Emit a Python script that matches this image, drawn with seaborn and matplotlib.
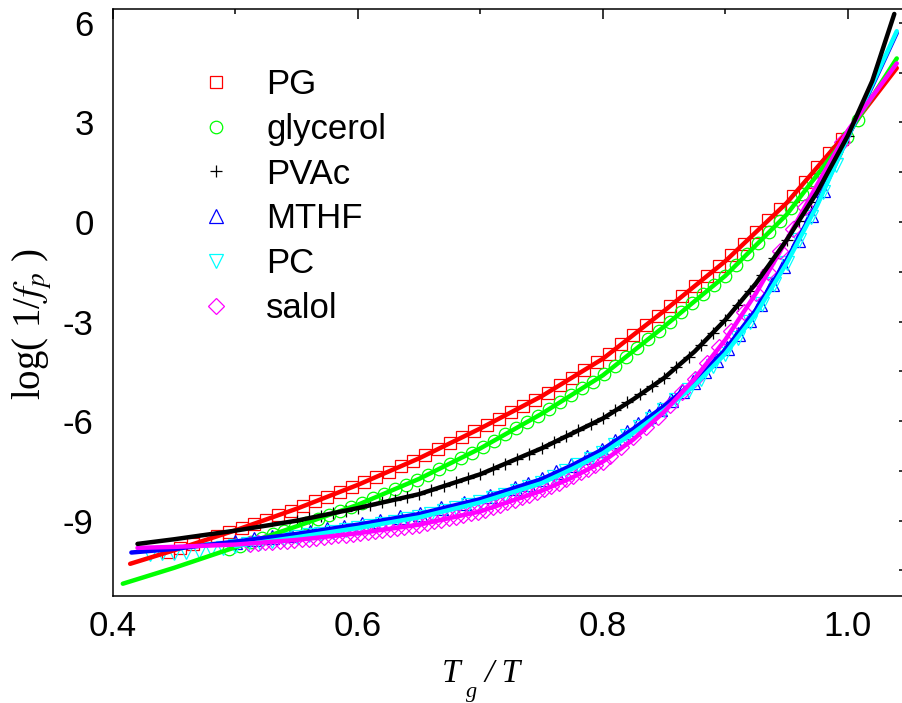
import matplotlib
matplotlib.use("Agg")
import matplotlib.pyplot as plt
import seaborn as sns
from matplotlib.ticker import MultipleLocator

# Measured points (Tg/T, log(1/fp))
pg_x = [0.445, 0.455, 0.465, 0.475, 0.485, 0.495, 0.505, 0.515, 0.525, 0.535, 0.545, 0.555, 0.565, 0.575,
        0.585, 0.595, 0.605, 0.615, 0.625, 0.635, 0.645, 0.655, 0.665, 0.675, 0.685, 0.695, 0.705, 0.715,
        0.725, 0.735, 0.745, 0.755, 0.765, 0.775, 0.785, 0.795, 0.805, 0.815, 0.825, 0.835, 0.845, 0.855,
        0.865, 0.875, 0.885, 0.895, 0.905, 0.915, 0.925, 0.935, 0.945, 0.955, 0.965, 0.975, 0.985, 0.995]
pg_y = [-9.95, -9.83, -9.71, -9.59, -9.47, -9.35, -9.23, -9.10, -8.97, -8.84, -8.71, -8.57, -8.42, -8.28,
        -8.14, -7.99, -7.84, -7.68, -7.52, -7.36, -7.20, -7.03, -6.85, -6.67, -6.49, -6.31, -6.12, -5.93,
        -5.74, -5.54, -5.35, -5.14, -4.91, -4.69, -4.46, -4.23, -3.98, -3.69, -3.40, -3.11, -2.82, -2.53,
        -2.23, -1.93, -1.63, -1.33, -1.00, -0.65, -0.30, 0.05, 0.40, 0.79, 1.22, 1.65, 2.08, 2.51]

gly_x = [0.495, 0.504, 0.513, 0.522, 0.531, 0.540, 0.549, 0.558, 0.567, 0.576, 0.585, 0.594, 0.603, 0.612,
         0.621, 0.630, 0.639, 0.648, 0.657, 0.666, 0.675, 0.684, 0.693, 0.702, 0.711, 0.720, 0.729, 0.738,
         0.747, 0.756, 0.765, 0.774, 0.783, 0.792, 0.801, 0.810, 0.819, 0.828, 0.837, 0.846, 0.855, 0.864,
         0.873, 0.882, 0.891, 0.900, 0.909, 0.918, 0.927, 0.936, 0.945, 0.954, 0.963, 0.972, 0.981, 0.990,
         0.999, 1.008]
gly_y = [-9.86, -9.75, -9.64, -9.52, -9.41, -9.30, -9.18, -9.07, -8.95, -8.83, -8.72, -8.60, -8.47, -8.33,
         -8.19, -8.05, -7.91, -7.77, -7.61, -7.45, -7.28, -7.11, -6.95, -6.78, -6.59, -6.40, -6.22, -6.03,
         -5.84, -5.64, -5.43, -5.22, -5.01, -4.81, -4.59, -4.33, -4.06, -3.80, -3.53, -3.27, -3.00, -2.72,
         -2.45, -2.17, -1.90, -1.62, -1.29, -0.96, -0.63, -0.30, 0.04, 0.41, 0.84, 1.28, 1.71, 2.14,
         2.57, 3.08]

pvac_x = [0.55, 0.56, 0.57, 0.58, 0.59, 0.60, 0.61, 0.62, 0.63, 0.64, 0.65, 0.66, 0.67, 0.68, 0.69, 0.70,
          0.71, 0.72, 0.73, 0.74, 0.75, 0.76, 0.77, 0.78, 0.79, 0.80, 0.81, 0.82, 0.83, 0.84, 0.85, 0.86,
          0.87, 0.88, 0.89, 0.90, 0.91, 0.92, 0.93, 0.94, 0.95, 0.96, 0.97, 0.98, 0.99, 1.00]
pvac_y = [-9.00, -8.92, -8.85, -8.77, -8.70, -8.62, -8.54, -8.45, -8.37, -8.28, -8.20, -8.08, -7.96, -7.84,
          -7.72, -7.60, -7.44, -7.29, -7.13, -6.98, -6.82, -6.64, -6.46, -6.28, -6.10, -5.92, -5.68, -5.43,
          -5.19, -4.94, -4.70, -4.38, -4.06, -3.71, -3.33, -2.95, -2.51, -2.07, -1.59, -1.07, -0.55, 0.03,
          0.61, 1.24, 1.92, 2.60]

mthf_x = [0.500, 0.515, 0.530, 0.545, 0.561, 0.575, 0.589, 0.603, 0.618, 0.634, 0.651, 0.668, 0.687, 0.708,
          0.728, 0.739, 0.750, 0.762, 0.774, 0.787, 0.799, 0.810, 0.820, 0.829, 0.838, 0.847, 0.856, 0.865,
          0.874, 0.883, 0.892, 0.901, 0.910, 0.919, 0.928, 0.938, 0.947, 0.959, 0.970, 0.980]
mthf_y = [-9.63, -9.56, -9.49, -9.42, -9.34, -9.26, -9.18, -9.10, -9.00, -8.90, -8.79, -8.63, -8.47, -8.25,
          -8.01, -7.88, -7.75, -7.53, -7.32, -7.08, -6.87, -6.59, -6.33, -6.10, -5.86, -5.63, -5.37, -5.10,
          -4.83, -4.50, -4.15, -3.80, -3.37, -2.94, -2.47, -1.87, -1.33, -0.54, 0.21, 0.95]

pc_x = [0.43, 0.44, 0.45, 0.46, 0.47, 0.48, 0.49, 0.50, 0.51, 0.52, 0.53, 0.54, 0.55, 0.56, 0.57, 0.58,
        0.59, 0.60, 0.61, 0.62, 0.63, 0.64, 0.65, 0.66, 0.67, 0.68, 0.69, 0.70, 0.71, 0.72, 0.73, 0.74,
        0.75, 0.76, 0.77, 0.78, 0.79, 0.80, 0.81, 0.82, 0.83, 0.84, 0.85, 0.86, 0.87, 0.88, 0.89, 0.90,
        0.91, 0.92, 0.93, 0.94, 0.95, 0.96, 0.97, 0.98, 0.99]
pc_y = [-10.00, -9.98, -9.96, -9.93, -9.90, -9.86, -9.81, -9.76, -9.71, -9.66, -9.60, -9.55, -9.50, -9.44,
        -9.39, -9.33, -9.28, -9.22, -9.16, -9.09, -9.03, -8.96, -8.90, -8.81, -8.72, -8.63, -8.54, -8.45,
        -8.33, -8.22, -8.10, -7.99, -7.87, -7.69, -7.51, -7.33, -7.15, -6.97, -6.71, -6.45, -6.19, -5.93,
        -5.67, -5.37, -5.07, -4.73, -4.35, -3.97, -3.49, -3.01, -2.47, -1.86, -1.25, -0.55, 0.15, 0.91,
        1.73]

salol_x = [0.512, 0.518, 0.524, 0.530, 0.536, 0.542, 0.548, 0.554, 0.560, 0.566, 0.572, 0.578, 0.584, 0.590,
           0.596, 0.602, 0.608, 0.614, 0.620, 0.626, 0.632, 0.638, 0.644, 0.650, 0.656, 0.662, 0.668, 0.674,
           0.680, 0.686, 0.692, 0.698, 0.704, 0.710, 0.716, 0.722, 0.728, 0.734, 0.740, 0.746, 0.752, 0.758,
           0.764, 0.770, 0.776, 0.782, 0.788, 0.794, 0.800, 0.806, 0.815, 0.825, 0.835, 0.845, 0.855, 0.865,
           0.875, 0.885, 0.895, 0.905, 0.915, 0.925, 0.935, 0.945, 0.955, 0.965, 0.975, 0.985, 0.995]
salol_y = [-9.69, -9.67, -9.65, -9.64, -9.62, -9.60, -9.59, -9.56, -9.54, -9.52, -9.49, -9.47, -9.44, -9.42,
           -9.40, -9.37, -9.34, -9.31, -9.28, -9.24, -9.21, -9.18, -9.15, -9.12, -9.07, -9.02, -8.98, -8.93,
           -8.88, -8.83, -8.78, -8.74, -8.67, -8.60, -8.52, -8.45, -8.37, -8.30, -8.22, -8.15, -8.06, -7.96,
           -7.85, -7.75, -7.64, -7.54, -7.43, -7.33, -7.22, -7.04, -6.77, -6.47, -6.17, -5.87, -5.52, -5.12,
           -4.72, -4.25, -3.78, -3.27, -2.71, -2.15, -1.51, -0.87, -0.22, 0.45, 1.12, 1.77, 2.42]

# Fitted curves
pg_fit_x = [0.414, 0.45, 0.50, 0.55, 0.60, 0.65, 0.70, 0.75, 0.80, 0.85, 0.90, 0.95, 1.00, 1.04]
pg_fit_y = [-10.30, -9.89, -9.29, -8.64, -7.92, -7.12, -6.22, -5.25, -4.12, -2.68, -1.18, 0.57, 2.72, 4.64]

gly_fit_x = [0.408, 0.45, 0.50, 0.55, 0.60, 0.65, 0.70, 0.75, 0.80, 0.85, 0.90, 0.95, 1.00, 1.04]
gly_fit_y = [-10.90, -10.42, -9.80, -9.17, -8.52, -7.74, -6.82, -5.78, -4.62, -3.15, -1.62, 0.22, 2.62, 4.93]

pvac_fit_x = [0.42, 0.45, 0.50, 0.55, 0.60, 0.65, 0.70, 0.75, 0.80, 0.825, 0.85, 0.875, 0.90, 0.925, 0.95,
              0.975, 1.00, 1.02, 1.038]
pvac_fit_y = [-9.70, -9.56, -9.30, -9.00, -8.62, -8.20, -7.60, -6.82, -5.92, -5.34, -4.70, -3.90, -2.95,
              -1.85, -0.55, 0.90, 2.60, 4.25, 6.27]

mthf_fit_x = [0.415, 0.45, 0.50, 0.55, 0.60, 0.65, 0.70, 0.75, 0.775, 0.80, 0.825, 0.85, 0.875, 0.90, 0.925,
              0.95, 0.975, 1.00, 1.02, 1.04]
mthf_fit_y = [-9.96, -9.85, -9.63, -9.40, -9.12, -8.80, -8.35, -7.75, -7.33, -6.85, -6.23, -5.55, -4.80,
              -3.85, -2.65, -1.15, 0.55, 2.55, 4.10, 5.70]

pc_fit_x = [0.50, 0.55, 0.60, 0.65, 0.70, 0.75, 0.775, 0.80, 0.825, 0.85, 0.875, 0.90, 0.925, 0.95, 0.975,
            1.00, 1.02, 1.04]
pc_fit_y = [-9.76, -9.50, -9.22, -8.90, -8.45, -7.87, -7.44, -6.97, -6.35, -5.67, -4.92, -3.97, -2.77, -1.25,
            0.50, 2.55, 4.15, 5.75]

salol_fit_x = [0.42, 0.45, 0.50, 0.55, 0.60, 0.65, 0.70, 0.75, 0.775, 0.80, 0.825, 0.85, 0.875, 0.90, 0.925,
               0.95, 0.975, 1.00, 1.02, 1.04]
salol_fit_y = [-9.82, -9.79, -9.72, -9.58, -9.38, -9.12, -8.72, -8.10, -7.70, -7.22, -6.55, -5.72, -4.72,
               -3.55, -2.15, -0.55, 1.12, 2.75, 3.78, 4.78]

sns.set_style("white")
plt.rcParams['font.family'] = ['Liberation Sans', 'DejaVu Sans']
plt.rcParams['mathtext.fontset'] = 'stix'
plt.rcParams['axes.unicode_minus'] = False
for key in ['text.color', 'axes.labelcolor', 'xtick.color', 'ytick.color', 'axes.edgecolor']:
    plt.rcParams[key] = 'black'

fig = plt.figure(figsize=(9.02, 7.03), dpi=100)
# right spine sits just past the image edge, as in the original
ax = fig.add_axes([113 / 902, 1 - 596 / 703, 796 / 902, 586.7 / 703])

# hollow markers for the data
series = [
    (pg_x, pg_y, 's', 8.5, '#ff0000', 'PG'),
    (gly_x, gly_y, 'o', 9.0, '#00ff00', 'glycerol'),
    (pvac_x, pvac_y, '+', 9.0, '#000000', 'PVAc'),
    (mthf_x, mthf_y, '^', 9.5, '#0000ff', 'MTHF'),
    (pc_x, pc_y, 'v', 9.5, '#00ffff', 'PC'),
    (salol_x, salol_y, 'D', 8.0, '#ff00ff', 'salol'),
]
for xs, ys, mk, ms, col, name in series:
    sns.lineplot(x=xs, y=ys, ax=ax, estimator=None, sort=False, ls='none', marker=mk, ms=ms,
                 mfc='none', mec=col, mew=0.9, color=col, label=name, zorder=2)

# thick fit lines on top
fits = [
    (pg_fit_x, pg_fit_y, '#ff0000'),
    (gly_fit_x, gly_fit_y, '#00ff00'),
    (mthf_fit_x, mthf_fit_y, '#0000ff'),
    (pc_fit_x, pc_fit_y, '#00ffff'),
    (salol_fit_x, salol_fit_y, '#ff00ff'),
    (pvac_fit_x, pvac_fit_y, '#000000'),
]
for xs, ys, col in fits:
    sns.lineplot(x=xs, y=ys, ax=ax, estimator=None, sort=False, color=col, lw=3.2, zorder=3)

ax.set_xlim(0.4, 1.05)
ax.set_ylim(-11.27, 6.41)
ax.xaxis.set_minor_locator(MultipleLocator(0.1))
ax.yaxis.set_minor_locator(MultipleLocator(1.5))
ax.set_xticks([0.4, 0.6, 0.8, 1.0], ['0.4', '0.6', '0.8', '1.0'])
ax.set_yticks([-9, -6, -3, 0, 3, 6], ['-9', '-6', '-3', '0', '3', '6'])

ax.tick_params(axis='both', which='both', direction='in', top=True, right=True,
               labelsize=25, width=1.1, color='black', labelcolor='black')
ax.tick_params(axis='x', which='major', length=7, pad=10)
ax.tick_params(axis='x', which='minor', length=3.5)
ax.tick_params(axis='y', which='major', length=7, pad=14)
ax.tick_params(axis='y', which='minor', length=7)
for sp in ax.spines.values():
    sp.set_linewidth(1.1)
    sp.set_color('black')
ax.set_xlabel('')
ax.set_ylabel('')

handles, labels = ax.get_legend_handles_labels()
ax.legend(handles, labels, loc='upper left', bbox_to_anchor=(198.6 / 902, 1 - 68 / 703),
          bbox_transform=fig.transFigure, frameon=False, fontsize=25, handlelength=1.0,
          handletextpad=0.95, labelspacing=0.34, borderpad=0, borderaxespad=0)

# axis titles
serif = ['Liberation Serif', 'DejaVu Serif']
fig.text(32 / 902, 1 - 324 / 703, r'log( 1/$f_p$ )', rotation=90, ha='center', va='center',
         fontsize=28, family=serif)
fig.text(442 / 902, 1 - 682 / 703, 'T', fontsize=24, family=serif, style='italic', va='baseline')
fig.text(485 / 902, 1 - 682 / 703, '/ T', fontsize=24, family=serif, style='italic', va='baseline')
fig.text(466 / 902, 1 - 697 / 703, 'g', fontsize=16, family=serif, style='italic', va='baseline')

fig.savefig('out.png', dpi=100)
